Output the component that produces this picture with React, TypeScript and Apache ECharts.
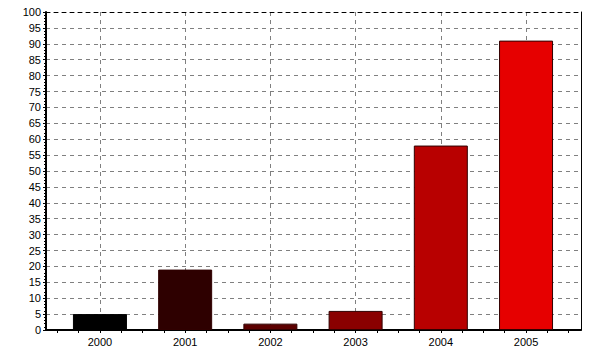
import React, { useEffect, useRef } from "react";
import * as echarts from "echarts";

const categories = ["2000", "2001", "2002", "2003", "2004", "2005"];
const values = [5, 19, 2, 6, 58, 91];
const barColors = ["#000000", "#2e0000", "#5c0000", "#8a0000", "#b80000", "#e60000"];
const yTicks = { min: 0, max: 100, step: 5 };

export default function App() {
  const ref = useRef<HTMLDivElement>(null);
  useEffect(() => {
    if (!ref.current) return;
    const chart = echarts.init(ref.current, undefined, { renderer: "svg" });
    const idx = categories.map((_, i) => i);
    const quarters: number[] = [];
    for (let i = 0; i < categories.length; i++) {
      [-0.5, -0.25, 0, 0.25].forEach((d) => quarters.push(i + d));
    }
    quarters.push(categories.length - 0.5);
    const xMin = -0.633;
    const xMax = categories.length - 1 + 0.645;
    const font = { fontFamily: "Liberation Sans", fontSize: 11, color: "#000" };
    chart.setOption({
      animation: false,
      backgroundColor: "#fff",
      grid: { left: 46, right: 19, top: 12, bottom: 30, containLabel: false },
      xAxis: [
        {
          type: "value",
          position: "bottom",
          min: xMin,
          max: xMax,
          axisLine: { show: true, onZero: false, lineStyle: { color: "#000", width: 2 } },
          axisTick: { show: true, customValues: idx, length: 3, lineStyle: { color: "#000" } },
          axisLabel: {
            show: true,
            customValues: idx,
            formatter: (v: number) => categories[Math.round(v)] ?? "",
            margin: 6,
            ...font,
          },
          splitLine: { show: true, lineStyle: { color: "#808080", type: [4, 4], width: 1 } },
        },
        {
          type: "value",
          position: "bottom",
          min: xMin,
          max: xMax,
          axisLine: { show: false },
          axisTick: { show: true, customValues: quarters, length: 3, lineStyle: { color: "#000" } },
          axisLabel: { show: false },
          splitLine: { show: false },
        },
        {
          type: "value",
          position: "top",
          min: xMin,
          max: xMax,
          z: 10,
          axisLine: { show: true, onZero: false, lineStyle: { color: "#000", width: 1, type: [4, 4] } },
          axisTick: { show: false },
          axisLabel: { show: false },
          splitLine: { show: false },
        },
      ],
      yAxis: [
        {
          type: "value",
          min: yTicks.min,
          max: yTicks.max,
          interval: yTicks.step,
          axisLine: { show: true, onZero: false, lineStyle: { color: "#000", width: 2 } },
          axisTick: { show: true, length: 3, lineStyle: { color: "#000" } },
          minorTick: { show: true, splitNumber: 5, length: 2, lineStyle: { color: "#000" } },
          axisLabel: { margin: 5, ...font },
          splitLine: { show: true, lineStyle: { color: "#808080", type: [4, 4], width: 1 } },
        },
        {
          type: "value",
          position: "right",
          min: yTicks.min,
          max: yTicks.max,
          axisLine: { show: true, onZero: false, lineStyle: { color: "#000", width: 1 } },
          axisTick: { show: false },
          axisLabel: { show: false },
          splitLine: { show: false },
        },
      ],
      series: [
        {
          type: "bar",
          xAxisIndex: 0,
          yAxisIndex: 0,
          barWidth: 54,
          z: 5,
          data: values.map((v, i) => ({
            value: [i, v],
            itemStyle: {
              color: barColors[i],
              borderColor: i === 0 ? "#000" : "#300000",
              borderWidth: 1,
            },
          })),
        },
      ],
    });
    return () => chart.dispose();
  }, []);
  return (
    <div
      ref={ref}
      style={{ position: "fixed", left: 0, top: 0, width: 600, height: 360, background: "#fff" }}
    />
  );
}
